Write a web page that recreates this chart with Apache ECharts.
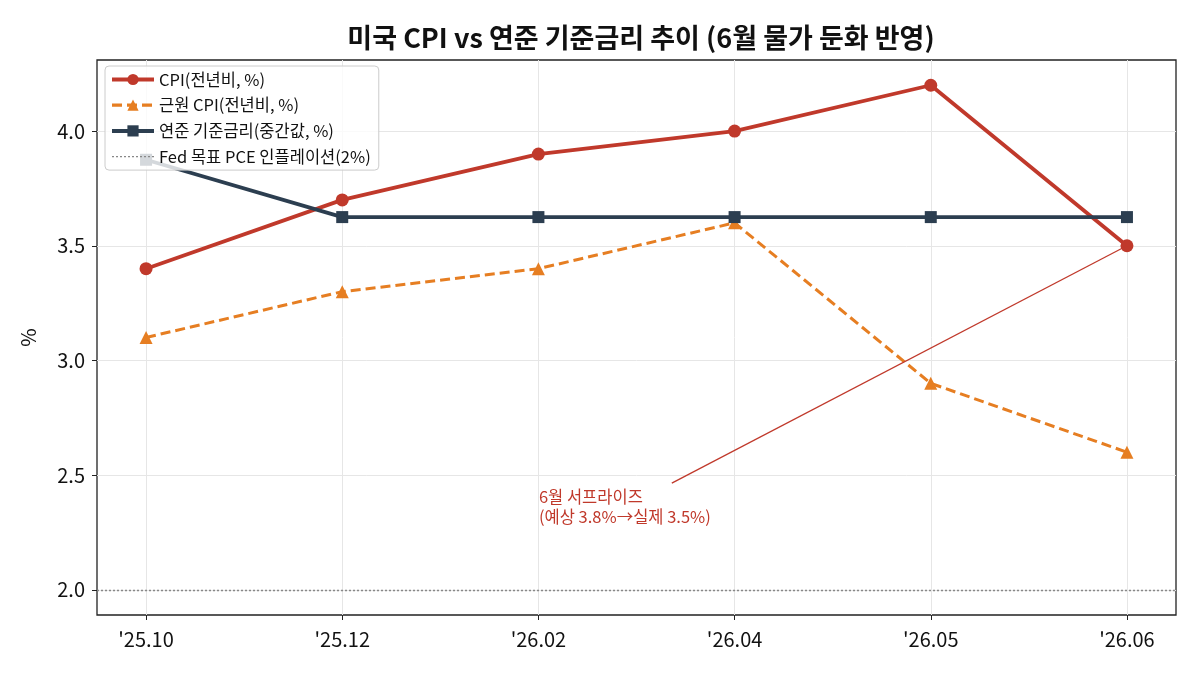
<!DOCTYPE html>
<html>
<head>
<meta charset="utf-8">
<script src="https://cdn.jsdelivr.net/npm/echarts@6/dist/echarts.min.js"></script>
<style>
    html, body { margin: 0; padding: 0; background: #fff; }
    #chart { width: 1200px; height: 675px; }
</style>
</head>
<body>
<div id="chart"></div>
<script>
// ========================= data =========================
var months = ["'25.10", "'25.12", "'26.02", "'26.04", "'26.05", "'26.06"];
var cpi = [3.4, 3.7, 3.9, 4.0, 4.2, 3.5];
var coreCpi = [3.1, 3.3, 3.4, 3.6, 2.9, 2.6];
var fedRate = [3.875, 3.625, 3.625, 3.625, 3.625, 3.625];
var fedTarget = 2.0;
var yTicks = [2.0, 2.5, 3.0, 3.5, 4.0];

// annotation (text position / arrow tail, in data units)
var noteText = '6월 서프라이즈\n(예상 3.8%→실제 3.5%)';
var noteAt = [2, 2.36];
var arrowFrom = [2.68, 2.465];
var arrowTo = [5, 3.5];

var FONT = '"Noto Sans CJK KR", "Noto Sans", sans-serif';

function pairs(arr) {
    var out = [];
    for (var i = 0; i < arr.length; i++) {
        out.push([i, arr[i]]);
    }
    return out;
}

function init() {
    var chart = echarts.init(document.getElementById('chart'));
    var xIdx = [];
    for (var i = 0; i < months.length; i++) xIdx.push(i);

    var option = {
        backgroundColor: '#fff',
        textStyle: { fontFamily: FONT },
        title: {
            text: '미국 CPI vs 연준 기준금리 추이 (6월 물가 둔화 반영)',
            left: 636, top: 19, textAlign: 'center',
            textStyle: { fontFamily: FONT, fontSize: 27, fontWeight: 'bold', color: '#111' }
        },
        grid: {
            left: 97, right: 24, top: 60, bottom: 60,
            show: true, borderColor: '#222', borderWidth: 1.3
        },
        legend: {
            orient: 'vertical',
            left: 105, top: 66,
            padding: [5, 8, 5, 5],
            itemWidth: 42, itemHeight: 14, itemGap: 8.7,
            backgroundColor: 'rgba(255,255,255,0.8)',
            borderColor: '#cccccc', borderWidth: 1, borderRadius: 4,
            textStyle: { fontFamily: FONT, fontSize: 16.5, lineHeight: 17, color: '#111' },
            data: [
                { name: 'CPI(전년비, %)', lineStyle: { width: 4 } },
                { name: '근원 CPI(전년비, %)', lineStyle: { width: 3.2 } },
                { name: '연준 기준금리(중간값, %)', lineStyle: { width: 4 } },
                { name: 'Fed 목표 PCE 인플레이션(2%)', itemStyle: { opacity: 0 }, lineStyle: { width: 1.4 } }
            ]
        },
        xAxis: {
            type: 'value',
            min: -0.25, max: 5.25,
            axisLine: { show: false, onZero: false },
            axisTick: { show: true, length: 5, customValues: xIdx, lineStyle: { color: '#222' } },
            axisLabel: {
                customValues: xIdx, margin: 14,
                fontFamily: FONT, fontSize: 20, color: '#111',
                formatter: function (v) { return months[Math.round(v)]; }
            },
            splitLine: { show: true, lineStyle: { color: '#e6e6e6', width: 1 } }
        },
        yAxis: {
            type: 'value',
            min: 1.89, max: 4.31,
            name: '%', nameLocation: 'middle', nameGap: 59, nameRotate: 90,
            nameTextStyle: { fontFamily: FONT, fontSize: 20, color: '#111' },
            axisLine: { show: false, onZero: false },
            axisTick: { show: true, length: 5, customValues: yTicks, lineStyle: { color: '#222' } },
            axisLabel: {
                customValues: yTicks, margin: 12,
                fontFamily: FONT, fontSize: 20, color: '#111',
                formatter: function (v) { return v.toFixed(1); }
            },
            splitLine: { show: true, lineStyle: { color: '#e6e6e6', width: 1 } }
        },
        series: [
            {
                name: 'CPI(전년비, %)',
                type: 'line',
                data: pairs(cpi),
                color: '#c0392b',
                lineStyle: { width: 3.8, color: '#c0392b' },
                symbol: 'circle', symbolSize: 13,
                itemStyle: { color: '#c0392b' },
                z: 3,
                markLine: {
                    silent: true,
                    symbol: ['none', 'arrow'],
                    symbolSize: [0, 9],
                    lineStyle: { color: '#c0392b', width: 1.3, type: 'solid' },
                    label: { show: false },
                    data: [[{ coord: arrowFrom }, { coord: arrowTo }]]
                },
                markPoint: {
                    silent: true,
                    data: [{
                        coord: noteAt, symbol: 'circle', symbolSize: 1,
                        itemStyle: { color: 'rgba(0,0,0,0)' },
                        label: {
                            show: true, position: 'right', distance: 0,
                            formatter: noteText,
                            align: 'left', verticalAlign: 'middle',
                            fontFamily: FONT, fontSize: 16.5, lineHeight: 20, color: '#c0392b'
                        }
                    }]
                }
            },
            {
                name: '근원 CPI(전년비, %)',
                type: 'line',
                data: pairs(coreCpi),
                color: '#e67e22',
                lineStyle: { width: 3, color: '#e67e22', type: [10, 5] },
                symbol: 'triangle', symbolSize: 13,
                itemStyle: { color: '#e67e22' },
                z: 3
            },
            {
                name: '연준 기준금리(중간값, %)',
                type: 'line',
                data: pairs(fedRate),
                color: '#2c3e50',
                lineStyle: { width: 3.8, color: '#2c3e50' },
                symbol: 'rect', symbolSize: 12,
                itemStyle: { color: '#2c3e50' },
                z: 3
            },
            {
                name: 'Fed 목표 PCE 인플레이션(2%)',
                type: 'line',
                data: [],
                color: '#888888',
                symbol: 'none',
                lineStyle: { width: 1.3, color: '#888888', type: [2, 2] },
                markLine: {
                    silent: true,
                    symbol: ['none', 'none'],
                    label: { show: false },
                    lineStyle: { width: 1.3, color: '#888888', type: [2, 2] },
                    data: [{ yAxis: fedTarget }]
                }
            }
        ]
    };

    chart.setOption(option);
}

window.addEventListener('load', init, false);
</script>
</body>
</html>
